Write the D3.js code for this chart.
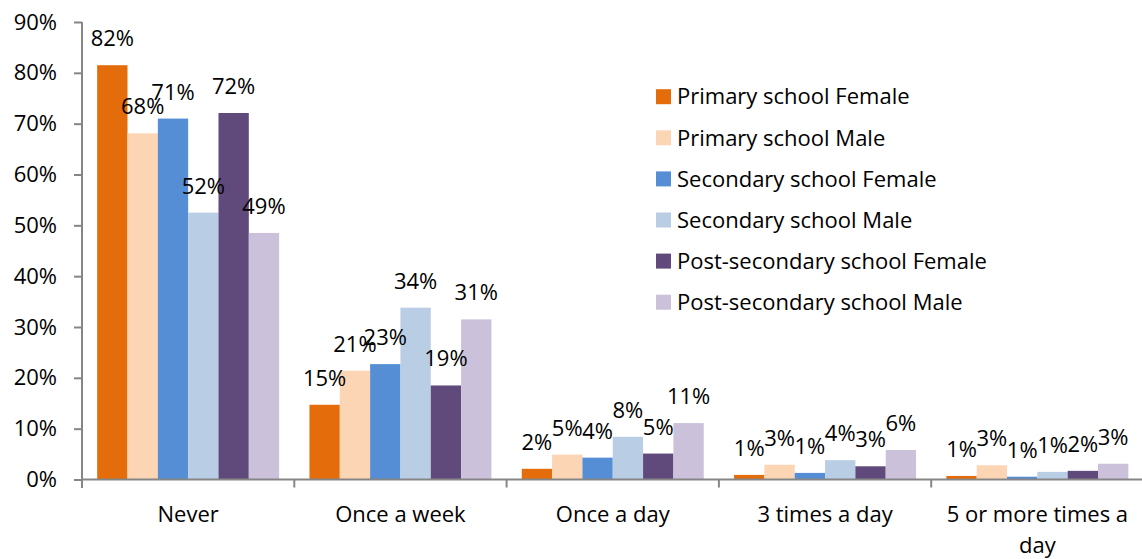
<!DOCTYPE html>
<html><head><meta charset="utf-8">
<script src="https://cdn.jsdelivr.net/npm/d3@7"></script>
<style>body{margin:0;background:#fff}svg{display:block}text{font-family:"Open Sans",sans-serif;fill:#000}</style>
</head><body><svg id="c" width="1142" height="559"></svg>
<script>
const categories = ["Never","Once a week","Once a day","3 times a day","5 or more times a day"];
const seriesNames = ["Primary school Female","Primary school Male","Secondary school Female","Secondary school Male","Post-secondary school Female","Post-secondary school Male"];
const primaryFemale = [81.5, 14.7, 2.1, 0.9, 0.7];
const primaryMale = [68.1, 21.4, 4.9, 2.9, 2.8];
const secondaryFemale = [71.0, 22.7, 4.3, 1.3, 0.55];
const secondaryMale = [52.5, 33.8, 8.4, 3.8, 1.5];
const postFemale = [72.1, 18.5, 5.1, 2.6, 1.7];
const postMale = [48.5, 31.5, 11.1, 5.8, 3.1];
const labels = [
  ["82%","15%","2%","1%","1%"],
  ["68%","21%","5%","3%","3%"],
  ["71%","23%","4%","1%","1%"],
  ["52%","34%","8%","4%","1%"],
  ["72%","19%","5%","3%","2%"],
  ["49%","31%","11%","6%","3%"]
];
const yTicks = [0,10,20,30,40,50,60,70,80,90];
const colors = ["#E46C0A","#FCD5B5","#558ED5","#B9CDE5","#604A7B","#CCC1DA"];
const seriesValues = [primaryFemale, primaryMale, secondaryFemale, secondaryMale, postFemale, postMale];

const FS = 22;
const svg = d3.select("#c");
const x0 = d3.scaleBand().domain(categories).range([82, 1143.5]).padding(0);
const x1 = d3.scaleBand().domain(d3.range(6)).range([0, x0.bandwidth()]).paddingInner(0).paddingOuter(0.5);
const y = d3.scaleLinear().domain([0, 90]).range([479.5, 22]);
const axisColor = "#868686";

// y axis
const ya = svg.append("g").attr("transform","translate(82,0)")
  .call(d3.axisLeft(y).tickValues(yTicks).tickSize(8).tickPadding(17).tickFormat(d => d + "%"));
ya.select(".domain").attr("stroke", axisColor).attr("stroke-width", 2).attr("d","M0,22V488");
ya.selectAll(".tick line").attr("stroke", axisColor).attr("stroke-width", 2);
ya.selectAll(".tick text").attr("font-size", FS).attr("fill","#000").attr("font-family","Open Sans");

// bars
categories.forEach((c, ci) => {
  seriesValues.forEach((vals, si) => {
    svg.append("rect")
      .attr("x", x0(c) + x1(si))
      .attr("y", y(vals[ci]))
      .attr("width", x1.bandwidth())
      .attr("height", y(0) - y(vals[ci]))
      .attr("fill", colors[si]);
  });
});

// x axis
svg.append("line").attr("x1", 82).attr("x2", 1143.5).attr("y1", y(0)).attr("y2", y(0))
  .attr("stroke", axisColor).attr("stroke-width", 2);
categories.forEach((c, ci) => {
  const xb = x0(c) + x0.bandwidth();
  svg.append("line").attr("x1", xb).attr("x2", xb).attr("y1", y(0)).attr("y2", y(0) + 8)
    .attr("stroke", axisColor).attr("stroke-width", 2);
});

// category labels
const catLines = [["Never"],["Once a week"],["Once a day"],["3 times a day"],["5 or more times a","day"]];
categories.forEach((c, ci) => {
  const t = svg.append("text").attr("x", x0(c) + x0.bandwidth()/2).attr("y", 522)
    .attr("text-anchor","middle").attr("font-size", FS);
  catLines[ci].forEach((ln, li) => {
    t.append("tspan").attr("x", x0(c) + x0.bandwidth()/2).attr("dy", li ? 31 : 0).text(ln);
  });
});

// data labels
categories.forEach((c, ci) => {
  seriesValues.forEach((vals, si) => {
    svg.append("text")
      .attr("x", x0(c) + x1(si) + x1.bandwidth()/2)
      .attr("y", y(vals[ci]) - 19)
      .attr("text-anchor","middle").attr("font-size", FS)
      .text(labels[si][ci]);
  });
});

// legend
seriesNames.forEach((n, i) => {
  const cy = 96.7 + i * 41.1;
  svg.append("rect").attr("x", 656).attr("y", cy - 7.5).attr("width", 15).attr("height", 15).attr("fill", colors[i]);
  svg.append("text").attr("x", 677).attr("y", cy).attr("dy","0.35em").attr("font-size", FS).text(n);
});
</script></body></html>
